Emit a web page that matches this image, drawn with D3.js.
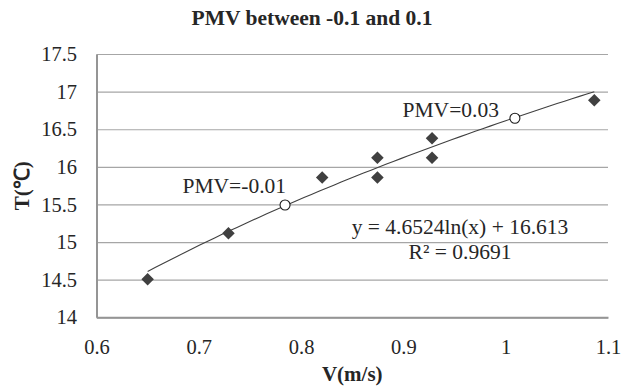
<!DOCTYPE html>
<html>
<head>
<meta charset="utf-8">
<script src="https://cdn.jsdelivr.net/npm/d3@7"></script>
<style>
  body { margin: 0; background: #fff; }
</style>
</head>
<body>
<div id="chart"></div>
<script>
// datos
const velocidad = [0.65, 0.729, 0.8206, 0.8746, 0.8746, 0.928, 0.928, 1.0866]
const temperatura = [14.505, 15.117, 15.857, 16.12, 15.857, 16.38, 16.12, 16.885]

// puntos marcados (circulos) con su etiqueta
const pmvV = [0.7843, 1.009]
const pmvT = [15.493, 16.646]
const pmvLabels = ["PMV=-0.01", "PMV=0.03"]

// linea de tendencia y = a ln(x) + b
const trendCoef = [4.6524, 16.613]
const trendLabels = ["y = 4.6524ln(x) + 16.613", "R² = 0.9691"]

const xTicks = [0.6, 0.7, 0.8, 0.9, 1.0, 1.1]
const xTickLabels = ["0.6", "0.7", "0.8", "0.9", "1", "1.1"]
const yTicks = [14, 14.5, 15, 15.5, 16, 16.5, 17, 17.5]
const yTickLabels = ["14", "14.5", "15", "15.5", "16", "16.5", "17", "17.5"]

const FUENTE = "'Liberation Serif', 'Times New Roman', serif"
const W = 621, H = 390
const margin = {top: 54, right: 13, bottom: 72.7, left: 96.5}
const width = W - margin.left - margin.right
const height = H - margin.top - margin.bottom

const svg = d3.select("#chart").append("svg")
  .attr("width", W).attr("height", H)

const g = svg.append("g")
  .attr("transform", "translate(" + margin.left + "," + margin.top + ")")

const x = d3.scaleLinear().domain([0.6, 1.1]).range([0, width])
const y = d3.scaleLinear().domain([14, 17.5]).range([height, 0])

// rejilla horizontal
g.append("g")
  .call(d3.axisLeft(y).tickValues(yTicks).tickSize(-width).tickFormat(""))
  .call(s => s.select(".domain").remove())
  .selectAll("line").attr("stroke", "#a6a6a6").attr("stroke-width", 1.2)

// eje Y
g.append("g")
  .attr("font-family", FUENTE)
  .call(d3.axisLeft(y).tickValues(yTicks).tickSize(0).tickPadding(19.5)
    .tickFormat((d, i) => yTickLabels[i]))
  .call(s => s.select(".domain").attr("stroke", "#959595").attr("stroke-width", 2))
  .selectAll("text")
  .attr("font-size", 20.5).attr("fill", "#262626")

// eje X
g.append("g")
  .attr("transform", "translate(0," + height + ")")
  .call(d3.axisBottom(x).tickValues(xTicks).tickSize(0).tickPadding(22)
    .tickFormat((d, i) => xTickLabels[i]))
  .call(s => s.select(".domain").attr("stroke", "#959595").attr("stroke-width", 2))
  .selectAll("text")
  .attr("font-size", 20.5).attr("fill", "#262626")

// linea de tendencia
const ext = d3.extent(velocidad)
const trendX = d3.range(0, 61).map(i => ext[0] + (ext[1] - ext[0]) * i / 60)
g.append("path")
  .datum(trendX)
  .attr("fill", "none")
  .attr("stroke", "#404040")
  .attr("stroke-width", 1.1)
  .attr("d", d3.line()
    .x(d => x(d))
    .y(d => y(trendCoef[0] * Math.log(d) + trendCoef[1])))

// puntos (rombos)
g.selectAll(".dato")
  .data(velocidad)
  .enter()
  .append("path")
  .attr("class", "dato")
  .attr("d", d3.symbol().type(d3.symbolDiamond2).size(100))
  .attr("transform", (d, i) => "translate(" + x(d) + "," + y(temperatura[i]) + ")")
  .attr("fill", "#404040")

// circulos PMV
g.selectAll(".pmv")
  .data(pmvV)
  .enter()
  .append("circle")
  .attr("class", "pmv")
  .attr("cx", d => x(d))
  .attr("cy", (d, i) => y(pmvT[i]))
  .attr("r", 5)
  .attr("fill", "#fff")
  .attr("stroke", "#1a1a1a")
  .attr("stroke-width", 1.1)

const labOff = [[1, -12], [-16, -1]]
g.selectAll(".pmvlab")
  .data(pmvV)
  .enter()
  .append("text")
  .attr("class", "pmvlab")
  .attr("x", (d, i) => x(d) + labOff[i][0])
  .attr("y", (d, i) => y(pmvT[i]) + labOff[i][1])
  .attr("text-anchor", "end")
  .attr("font-size", 21.5)
  .attr("fill", "#262626")
  .text((d, i) => pmvLabels[i])

// etiqueta de la tendencia
svg.selectAll(".eq")
  .data(trendLabels)
  .enter()
  .append("text")
  .attr("class", "eq")
  .attr("x", 460)
  .attr("y", (d, i) => 234 + i * 25)
  .attr("text-anchor", "middle")
  .attr("font-size", 21.5)
  .attr("fill", "#262626")
  .text(d => d)

// titulo
svg.append("text")
  .attr("x", 312).attr("y", 25)
  .attr("text-anchor", "middle")
  .attr("font-size", 21.5).attr("font-weight", "bold")
  .attr("fill", "#262626")
  .text("PMV between -0.1 and 0.1")

// titulos de ejes
svg.append("text")
  .attr("x", margin.left + width / 2).attr("y", 381)
  .attr("text-anchor", "middle")
  .attr("font-size", 21).attr("font-weight", "bold")
  .attr("fill", "#262626")
  .text("V(m/s)")

svg.append("text")
  .attr("transform", "translate(29," + (margin.top + height / 2) + ") rotate(-90)")
  .attr("text-anchor", "middle")
  .attr("font-size", 21).attr("font-weight", "bold")
  .attr("fill", "#262626")
  .text("T(℃)")

// todas las letras en serif
svg.selectAll("text").attr("font-family", FUENTE).style("font-family", FUENTE)
</script>
</body>
</html>
